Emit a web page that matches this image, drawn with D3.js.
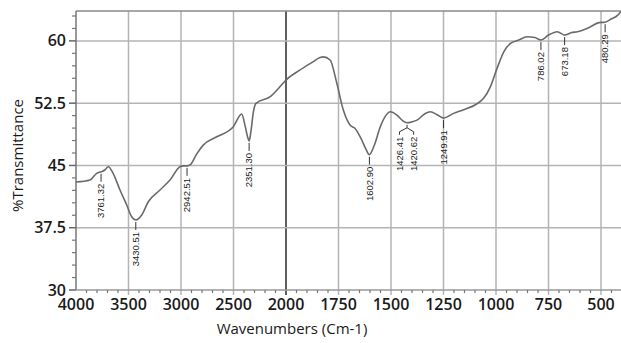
<!DOCTYPE html>
<html>
<head>
<meta charset="utf-8">
<script src="https://cdn.jsdelivr.net/npm/d3@7"></script>
<style>
  body { margin: 0; background: #fff; }
  text { fill: #1a1a1a; }
</style>
</head>
<body>
<div id="chart"></div>
<script>
// spectrum (wavenumber cm-1 -> %T)
let wavenumbers = [4000, 3867, 3803, 3761, 3725, 3692, 3648, 3581, 3517, 3470, 3430, 3374, 3311, 3200, 3105, 3010,
    2975, 2942, 2910, 2850, 2788, 2660, 2502, 2422, 2390, 2365, 2351, 2335, 2310, 2286, 2143, 2070, 2000,
    1933, 1870, 1838, 1822, 1790, 1758, 1727, 1695, 1671, 1639, 1620, 1603, 1580, 1551, 1525, 1504, 1472,
    1445, 1424, 1400, 1376, 1340, 1313, 1280, 1250, 1202, 1154, 1098, 1059, 1027, 995, 963, 931, 892, 852,
    815, 786, 750, 708, 673, 640, 613, 550, 510, 480, 454, 420, 406, 400]
let transmittance = [43.0, 43.24, 44.05, 44.24, 44.45, 44.84, 44.08, 42.04, 40.23, 38.82, 38.43, 39.03, 40.63, 42.04, 43.24, 44.84,
    44.95, 44.95, 45.1, 46.4, 47.45, 48.45, 49.66, 51.2, 49.8, 48.4, 47.95, 49.0, 51.5, 52.48, 53.35, 54.3, 55.28,
    56.5, 57.5, 58.0, 58.08, 57.7, 54.9, 51.67, 49.86, 49.46, 48.06, 47.0, 46.3, 47.4, 49.66, 51.0, 51.47, 51.07,
    50.4, 50.14, 50.25, 50.46, 51.2, 51.47, 51.1, 50.7, 51.27, 51.71, 52.31, 53.08, 54.47, 56.69, 58.69, 59.7, 60.1, 60.5,
    60.4, 60.1, 60.7, 61.1, 60.7, 61.0, 61.1, 61.7, 62.2, 62.25, 62.6, 63.1, 63.5, 63.6]

let peakWavenumbers = [3761.32, 3430.51, 2942.51, 2351.30, 1602.90, 1426.41, 1420.62, 1249.91, 786.02, 673.18, 480.29]
let peakValues = [44.24, 38.43, 44.95, 47.95, 46.3, 50.14, 50.14, 50.7, 60.1, 60.7, 62.25]

let xTicks = [4000, 3500, 3000, 2500, 2000, 1750, 1500, 1250, 1000, 750, 500]
let yTicks = [30, 37.5, 45, 52.5, 60]

let margin = {top: 11, right: 0, bottom: 53, left: 76}
let width = 622 - margin.left
let height = 343 - margin.top - margin.bottom

let svg = d3.select("#chart")
    .append("svg")
    .attr("width", 621)
    .attr("height", 343)
    .append("g")
    .attr("transform", "translate(" + margin.left + "," + margin.top + ")")

// the scale is stretched below 2000
let x = d3.scaleLinear().domain([4000, 2000, 400]).range([0, 210, width])
let y = d3.scaleLinear().domain([30, 63.6]).range([height, 0])

let gridColor = "#b4b4b4"

// grid
svg.selectAll(".vgrid")
    .data(xTicks.filter(d => d !== 4000))
    .enter().append("line")
    .attr("x1", d => x(d)).attr("x2", d => x(d))
    .attr("y1", 0).attr("y2", height + 5)
    .attr("stroke", d => d === 2000 ? "#2a2a2a" : gridColor)
    .attr("stroke-width", 1.5)

svg.selectAll(".hgrid")
    .data(yTicks.filter(d => d !== 30))
    .enter().append("line")
    .attr("x1", 0).attr("x2", width)
    .attr("y1", d => y(d)).attr("y2", d => y(d))
    .attr("stroke", gridColor)
    .attr("stroke-width", 1.5)

// frame
svg.append("line").attr("x1", 0).attr("x2", width).attr("y1", 0).attr("y2", 0)
    .attr("stroke", "#8a8a8a").attr("stroke-width", 1.5)
svg.append("line").attr("x1", 0).attr("x2", 0).attr("y1", 0).attr("y2", height)
    .attr("stroke", "#777").attr("stroke-width", 1.5)
svg.append("line").attr("x1", 0).attr("x2", width).attr("y1", height).attr("y2", height)
    .attr("stroke", "#999").attr("stroke-width", 1.5)

// minor ticks
let xMinor = d3.range(4000, 2000, -100).concat(d3.range(2000, 399, -50))
    .filter(d => xTicks.indexOf(d) < 0)
svg.selectAll(".xminor")
    .data(xMinor)
    .enter().append("line")
    .attr("x1", d => x(d)).attr("x2", d => x(d))
    .attr("y1", height).attr("y2", height + 3)
    .attr("stroke", "#777").attr("stroke-width", 1.2)

let yMinor = d3.range(30, 63.7, 1.5).filter(d => yTicks.indexOf(d) < 0)
svg.selectAll(".yminor")
    .data(yMinor)
    .enter().append("line")
    .attr("x1", -4).attr("x2", 0)
    .attr("y1", d => y(d)).attr("y2", d => y(d))
    .attr("stroke", "#777").attr("stroke-width", 1.2)

svg.selectAll(".ymajor")
    .data(yTicks)
    .enter().append("line")
    .attr("x1", -7).attr("x2", 0)
    .attr("y1", d => y(d)).attr("y2", d => y(d))
    .attr("stroke", "#666").attr("stroke-width", 1.5)

// tick labels
svg.selectAll(".xlab")
    .data(xTicks)
    .enter().append("text")
    .attr("x", d => x(d))
    .attr("y", height + 20)
    .attr("text-anchor", "middle")
    .style("font-family", "'Open Sans', sans-serif")
    .style("font-size", "16px")
    .style("font-weight", 600)
    .text(d => d)

svg.selectAll(".ylab")
    .data(yTicks)
    .enter().append("text")
    .attr("x", -10)
    .attr("y", d => y(d))
    .attr("dy", "0.35em")
    .attr("text-anchor", "end")
    .style("font-family", "'Open Sans', sans-serif")
    .style("font-size", "16px")
    .style("font-weight", 600)
    .text(d => d)

// axis titles
svg.append("text")
    .attr("x", 216)
    .attr("y", height + 44)
    .attr("text-anchor", "middle")
    .style("font-family", "'Open Sans', sans-serif")
    .style("font-size", "15px")
    .text("Wavenumbers (Cm-1)")

svg.append("text")
    .attr("transform", "translate(" + (-53) + "," + (height / 2 + 5) + ") rotate(-90)")
    .attr("text-anchor", "middle")
    .style("font-family", "'Open Sans', sans-serif")
    .style("font-size", "15px")
    .text("%Transmittance")

// spectrum
let spectrum = wavenumbers.map((w, i) => ({w: w, t: transmittance[i]}))
svg.append("path")
    .datum(spectrum)
    .attr("d", d3.line()
        .x(d => x(d.w))
        .y(d => y(d.t))
        .curve(d3.curveMonotoneX))
    .attr("fill", "none")
    .attr("stroke", "#6a6a6a")
    .attr("stroke-width", 1.6)

// peak labels, close pairs get a small fork
let peaks = peakWavenumbers.map((w, i) => ({w: w, t: peakValues[i], shift: 0, pair: false}))
peaks.forEach((p, i) => {
    let next = peaks[i + 1]
    if (next && Math.abs(p.w - next.w) < 10) {
        p.shift = -7; next.shift = 6
        p.pair = true; next.pair = true
        let cx = (x(p.w) + x(next.w)) / 2
        let cy = y(p.t)
        svg.append("path")
            .attr("d", "M" + cx + "," + (cy + 2) + "V" + (cy + 5)
                + "M" + (x(p.w) + p.shift) + "," + (cy + 12) + "V" + (cy + 9) + "L" + cx + "," + (cy + 5)
                + "L" + (x(next.w) + next.shift) + "," + (cy + 9) + "V" + (cy + 12))
            .attr("fill", "none")
            .attr("stroke", "#333")
            .attr("stroke-width", 1)
    }
})

peaks.forEach(p => {
    let px = x(p.w) + p.shift
    let py = y(p.t)
    if (!p.pair) {
        svg.append("line")
            .attr("x1", px).attr("x2", px)
            .attr("y1", py + 2).attr("y2", py + 10)
            .attr("stroke", "#333").attr("stroke-width", 1)
    }
    svg.append("text")
        .attr("transform", "translate(" + px + "," + (py + (p.pair ? 14 : 12)) + ") rotate(-90)")
        .attr("dy", "0.35em")
        .attr("text-anchor", "end")
        .style("font-family", "'Liberation Sans', Arial, sans-serif")
        .style("font-size", "9.5px")
        .style("fill", "#222")
        .text(p.w.toFixed(2))
})
</script>
</body>
</html>
